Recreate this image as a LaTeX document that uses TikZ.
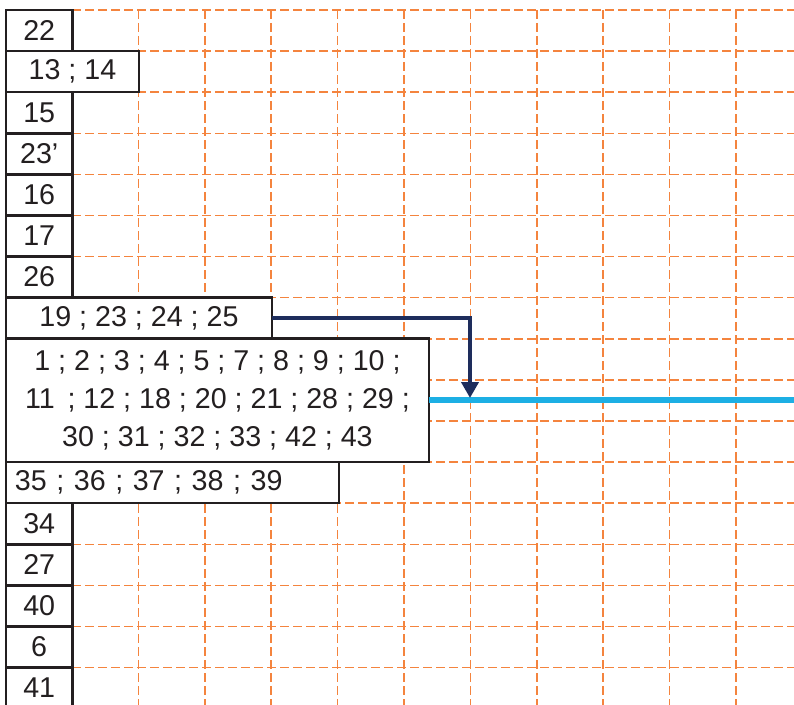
\documentclass[tikz,border=0pt]{standalone}
\usepackage{fontspec}
\setmainfont{Liberation Sans}
\usetikzlibrary{arrows.meta, positioning}
\definecolor{gridOrange}{RGB}{244,132,62}
\definecolor{lineBlue}{RGB}{29,175,228}
\definecolor{arrNavy}{RGB}{30,45,92}
\definecolor{boxInk}{RGB}{35,31,32}

\begin{document}
\begin{tikzpicture}[
    x=0.02cm, y=-0.02cm,
    node distance=0pt,
    cell/.style={
      rectangle, draw=boxInk, line width=1.5pt, fill=white, text=boxInk,
      minimum width=1.328cm, minimum height=0.822cm, inner sep=0pt, outer sep=0pt,
      font=\fontsize{16.3}{21.5}\selectfont
    },
    wide/.style={cell, minimum width=#1},
    grid/.style={gridOrange, line width=0.9pt, dash pattern=on 5pt off 2.4pt},
    arr/.style={-{Triangle[width=0.34cm, length=0.32cm]}, arrNavy, line width=2.2pt},
    crit/.style={lineBlue, line width=3.4pt}
  ]
    \useasboundingbox (0,0) rectangle (794,705);

    % dashed grid
    \foreach \k in {0,...,16}
      \draw[grid] (72,10+41.1*\k) -- (794,10+41.1*\k);
    \foreach \k in {1,...,10}
      \draw[grid] (72+66.4*\k,10) -- (72+66.4*\k,705);

    % task column
    \node[cell, anchor=north west] (r22) at (6,10) {22};
    \node[wide=2.66cm, below=of r22.south west, anchor=north west] (r13) {13 ; 14};
    \node[cell, below=of r13.south west, anchor=north west] (r15) {15};
    \node[cell, below=of r15.south west, anchor=north west] (r23) {23'};
    \node[cell, below=of r23.south west, anchor=north west] (r16) {16};
    \node[cell, below=of r16.south west, anchor=north west] (r17) {17};
    \node[cell, below=of r17.south west, anchor=north west] (r26) {26};
    \node[wide=5.32cm, below=of r26.south west, anchor=north west] (r19) {19 ; 23 ; 24 ; 25};
    \node[wide=8.46cm, minimum height=2.466cm, align=center,
      below=of r19.south west, anchor=north west] (big)
      {1 ; 2 ; 3 ; 4 ; 5 ; 7 ; 8 ; 9 ; 10 ;\\
       11 \,; 12 ; 18 ; 20 ; 21 ; 28 ; 29 ;\\
       30 ; 31 ; 32 ; 33 ; 42 ; 43};
    \node[wide=6.66cm, inner xsep=0.18cm, text width=6.3cm, align=left,
      below=of big.south west, anchor=north west] (r35) {35 ; 36 ; 37 ; 38 ; 39};
    \node[cell, below=of r35.south west, anchor=north west] (r34) {34};
    \node[cell, below=of r34.south west, anchor=north west] (r27) {27};
    \node[cell, below=of r27.south west, anchor=north west] (r40) {40};
    \node[cell, below=of r40.south west, anchor=north west] (r6) {6};
    \node[cell, below=of r6.south west, anchor=north west] (r41) {41};

    % links
    \coordinate (edge) at (794,0);
    \coordinate (lineEnd) at (big.east -| edge);
    \coordinate (drop) at (470,398);
    \draw[crit] (big.east) -- (lineEnd);
    \draw[arr] (r19.east) -| (drop);
  \end{tikzpicture}
\end{document}
